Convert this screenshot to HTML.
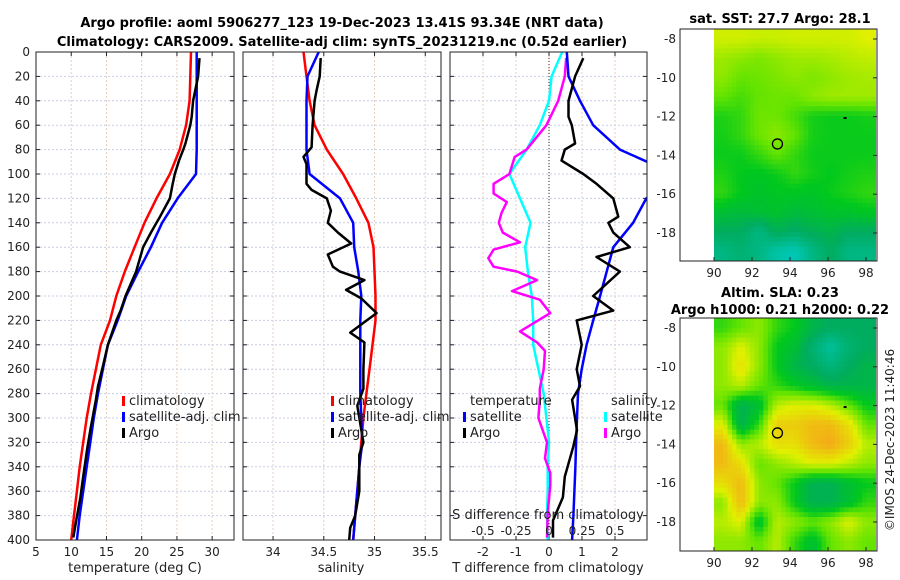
<!DOCTYPE html>
<html><head><meta charset="utf-8">
<style>
html,body{margin:0;padding:0;background:#fff;}
svg{display:block;font-family:"DejaVu Sans","Liberation Sans",sans-serif;}
</style></head>
<body>
<svg id="fig" width="900" height="580" viewBox="0 0 900 580" xmlns="http://www.w3.org/2000/svg">
<text x="342" y="27" text-anchor="middle" font-size="13" font-weight="bold">Argo profile: aoml 5906277_123 19-Dec-2023 13.41S 93.34E (NRT data)</text>
<text x="342" y="46" text-anchor="middle" font-size="13" font-weight="bold">Climatology: CARS2009. Satellite-adj clim: synTS_20231219.nc (0.52d earlier)</text>
<text x="780" y="23" text-anchor="middle" font-size="13" font-weight="bold">sat. SST: 27.7 Argo: 28.1</text>
<text x="780" y="297" text-anchor="middle" font-size="13" font-weight="bold">Altim. SLA: 0.23</text>
<text x="780" y="314" text-anchor="middle" font-size="13" font-weight="bold">Argo h1000: 0.21 h2000: 0.22</text>
<text transform="translate(894,440) rotate(-90)" text-anchor="middle" font-size="12" fill="#222">©IMOS 24-Dec-2023 11:40:46</text>
<g id="layer"></g>
</svg>
<script>
// ---------- data ----------
const depthTicks = [0,20,40,60,80,100,120,140,160,180,200,220,240,260,280,300,320,340,360,380,400];
const tempTicks = [5,10,15,20,25,30];
const salTicks = [34,34.5,35,35.5];
const salTickLabels = ["34","34.5","35","35.5"];
const tdiffTicks = [-2,-1,0,1,2];
const sdiffTicks = [-0.5,-0.25,0,0.25,0.5];
const sdiffTickLabels = ["-0.5","-0.25","0","0.25","0.5"];

const climDepth = [0,20,40,60,80,100,120,140,160,180,200,220,240,260,280,300,320,340,360,380,400];
const climTemp = [27.0,26.9,26.8,26.3,25.4,24.0,22.1,20.4,19.0,17.6,16.4,15.5,14.2,13.5,12.8,12.2,11.7,11.2,10.8,10.4,10.0];
const satTemp  = [27.8,27.8,27.8,27.8,27.8,27.7,25.1,22.9,21.3,19.5,17.8,16.6,15.2,14.5,13.8,13.2,12.7,12.2,11.7,11.2,10.8];
const climSal  = [34.30,34.33,34.36,34.41,34.53,34.69,34.82,34.94,34.99,35.0,35.01,35.01,34.98,34.95,34.92,34.89,34.87,34.85,34.83,34.81,34.79];
const satSal   = [34.45,34.34,34.33,34.33,34.33,34.36,34.66,34.79,34.80,34.84,34.87,34.86,34.86,34.86,34.86,34.87,34.88,34.85,34.83,34.81,34.79];

const argoDepth = [5,20,40,53,60,75,80,89,100,108,120,135,140,148,160,168,180,200,212,220,240,260,274,285,310,324,348,365,384,398];
const argoTemp  = [28.2,28.0,27.3,27.1,26.9,26.2,25.9,25.3,24.7,24.4,24.0,22.6,22.1,21.3,20.2,19.8,19.2,17.7,17.0,16.4,15.2,14.4,13.8,13.5,12.7,12.3,11.7,11.3,10.7,10.3];
const argoTdiff = [1.04,0.79,0.59,0.59,0.69,0.79,0.48,0.38,1.04,1.44,1.95,2.1,1.8,1.95,2.45,1.44,2.15,1.34,1.95,0.84,0.99,0.84,0.94,0.7,0.85,0.73,0.48,0.42,0.12,0.12];

const argoSalDepth = [5,20,31,40,60,78,86,92,108,113,120,130,140,148,157,166,176,180,187,195,202,214,230,238,260,276,290,320,330,360,380,390,400];
const argoSal   = [34.47,34.46,34.43,34.41,34.39,34.38,34.30,34.33,34.33,34.38,34.53,34.57,34.54,34.64,34.77,34.54,34.59,34.66,34.90,34.72,34.87,35.02,34.76,34.90,34.89,34.89,34.83,34.89,34.85,34.85,34.81,34.76,34.75];

const satTdiff  = [0.54,0.59,0.94,1.34,2.15,3.8,2.95,2.55,1.95,1.75,1.55,1.34,1.14,0.99,0.88,0.85,0.82,0.8,0.77,0.74,0.7];
const satSdiff  = [0.1,0.02,0.0,-0.07,-0.17,-0.30,-0.22,-0.14,-0.18,-0.16,-0.13,-0.12,-0.12,-0.08,-0.04,-0.02,0.0,-0.01,-0.01,-0.015,-0.01];
const argoSdiffDepth = [5,20,40,60,80,86,100,108,116,123,132,140,148,156,162,169,176,180,187,196,203,214,229,238,245,260,276,285,300,320,333,345,355,378,398];
const argoSdiff = [0.13,0.12,0.07,-0.02,-0.17,-0.26,-0.30,-0.42,-0.42,-0.32,-0.36,-0.38,-0.35,-0.22,-0.42,-0.46,-0.42,-0.24,-0.09,-0.28,-0.07,0.01,-0.22,-0.09,-0.03,-0.04,-0.07,-0.07,-0.08,-0.015,-0.03,0.01,0.01,-0.01,-0.015];

const lonTicks = [90,92,94,96,98];
const latTicks = [-8,-10,-12,-14,-16,-18];
const sstGrid = [
[0.68,0.68,0.67,0.67,0.68,0.68,0.68,0.68,0.70],
[0.62,0.60,0.58,0.60,0.62,0.62,0.63,0.65,0.66],
[0.60,0.55,0.56,0.58,0.60,0.58,0.60,0.62,0.63],
[0.55,0.52,0.55,0.56,0.56,0.60,0.62,0.62,0.62],
[0.48,0.50,0.56,0.56,0.52,0.47,0.46,0.46,0.47],
[0.47,0.50,0.56,0.60,0.55,0.47,0.46,0.46,0.46],
[0.46,0.46,0.50,0.55,0.50,0.46,0.46,0.46,0.46],
[0.48,0.45,0.44,0.46,0.50,0.47,0.45,0.47,0.48],
[0.50,0.45,0.42,0.44,0.44,0.43,0.46,0.48,0.50],
[0.40,0.38,0.40,0.42,0.38,0.40,0.42,0.42,0.44],
[0.30,0.30,0.20,0.32,0.28,0.32,0.35,0.30,0.30],
[0.20,0.25,0.20,0.10,0.05,0.20,0.30,0.20,0.20]];
const slaGrid = [
[0.50,0.55,0.60,0.50,0.45,0.35,0.30,0.30,0.30],
[0.60,0.70,0.60,0.45,0.40,0.25,0.12,0.25,0.30],
[0.60,0.75,0.60,0.45,0.35,0.30,0.22,0.30,0.35],
[0.60,0.65,0.55,0.50,0.45,0.40,0.35,0.35,0.35],
[0.55,0.33,0.40,0.65,0.70,0.70,0.65,0.55,0.45],
[0.70,0.33,0.50,0.80,0.80,0.85,0.85,0.75,0.55],
[0.85,0.60,0.65,0.75,0.75,0.85,0.90,0.80,0.65],
[0.85,0.75,0.55,0.60,0.65,0.70,0.70,0.65,0.60],
[0.75,0.85,0.60,0.55,0.45,0.33,0.33,0.40,0.45],
[0.60,0.85,0.60,0.60,0.45,0.33,0.33,0.40,0.50],
[0.65,0.70,0.40,0.65,0.60,0.55,0.60,0.70,0.60],
[0.60,0.60,0.55,0.65,0.50,0.40,0.55,0.60,0.55]];
const floatPos = [93.34,-13.41];
const markerPos = [96.9,-12.1];

// ---------- helpers ----------
const NS="http://www.w3.org/2000/svg";
const layer=document.getElementById('layer');
function mk(tag,attrs,parent){const e=document.createElementNS(NS,tag);for(const k in attrs)e.setAttribute(k,attrs[k]);(parent||layer).appendChild(e);return e;}
function txt(x,y,s,size,anchor,parent){const t=mk('text',{x:x,y:y,'font-size':size||12,'text-anchor':anchor||'middle',fill:'#222'},parent);t.textContent=s;return t;}

const Y0=52,Y1=540;
const yD=d=>Y0+(d/400)*(Y1-Y0);
const panels=[
 {x0:36,x1:234,lo:5,hi:33.1,name:'temperature-panel'},
 {x0:243,x1:441,lo:33.704,hi:35.655,name:'salinity-panel'},
 {x0:450,x1:647,lo:-3,hi:2.97,name:'difference-panel'}];
function xf(p){return v=>p.x0+(v-p.lo)/(p.hi-p.lo)*(p.x1-p.x0);}
const xs2=v=>549+v*132;

function frame(p,ticks,labels,clipId){
  const g=mk('g',{});
  
  
  const x=xf(p);
  depthTicks.forEach(d=>{mk('line',{x1:p.x0,x2:p.x1,y1:yD(d),y2:yD(d),stroke:'#c6cde6','stroke-width':1,'stroke-dasharray':'2,2'},g);
    mk('line',{x1:p.x0,x2:p.x0+4,y1:yD(d),y2:yD(d),stroke:'#222'},g);mk('line',{x1:p.x1,x2:p.x1-4,y1:yD(d),y2:yD(d),stroke:'#222'},g);});
  ticks.forEach((t,i)=>{const X=x(t);mk('line',{x1:X,x2:X,y1:Y0,y2:Y1,stroke:'#e6cfc0','stroke-width':1,'stroke-dasharray':'2,2'},g);
    mk('line',{x1:X,x2:X,y1:Y1,y2:Y1-4,stroke:'#222'},g);mk('line',{x1:X,x2:X,y1:Y0,y2:Y0+4,stroke:'#222'},g);
    const tl=txt(X,556,labels[i],12,'middle',g);
    
    });
  const cp=mk('clipPath',{id:clipId},g);mk('rect',{x:p.x0,y:Y0,width:p.x1-p.x0,height:Y1-Y0},cp);
  return g;
}
function line(xsArr,ds,xfun,color,w,clip,name){
  const pts=xsArr.map((v,i)=>xfun(v).toFixed(1)+','+yD(ds[i]).toFixed(1)).join(' ');
  const pl=mk('polyline',{points:pts,fill:'none',stroke:color,'stroke-width':w,'stroke-linejoin':'round','clip-path':'url(#'+clip+')'});
  
  
}
function box(p){mk('rect',{x:p.x0,y:Y0,width:p.x1-p.x0,height:Y1-Y0,fill:'none',stroke:'#222','stroke-width':1});}
function legend(x,y,items){items.forEach((it,i)=>{const yy=y+i*16;
  const m=mk('rect',{x:x,y:yy-9,width:3,height:10,fill:it[1]});
  
  
  const t=txt(x+7,yy,it[0],13,'start');
  
  });}

// Panel 1
const p1=panels[0],x1f=xf(p1);
frame(p1,tempTicks,tempTicks.map(String),'c1');
depthTicks.forEach(d=>{const t=txt(30,yD(d)+4,String(d),12,'end');
  
  });
line(climTemp,climDepth,x1f,'#f00',2.5,'c1','temp-climatology-line');
line(satTemp,climDepth,x1f,'#00f',2.5,'c1','temp-satellite-line');
line(argoTemp,argoDepth,x1f,'#000',2.5,'c1','temp-argo-line');
box(p1);
const xl1=txt(135,572,'temperature (deg C)',13);


legend(122,405,[['climatology','#f00'],['satellite-adj. clim','#00f'],['Argo','#000']]);

// Panel 2
const p2=panels[1],x2f=xf(p2);
frame(p2,salTicks,salTickLabels,'c2');
line(climSal,climDepth,x2f,'#f00',2.5,'c2','sal-climatology-line');
line(satSal,climDepth,x2f,'#00f',2.5,'c2','sal-satellite-line');
line(argoSal,argoSalDepth,x2f,'#000',2.5,'c2','sal-argo-line');
box(p2);
const xl2=txt(341,572,'salinity',13);


legend(331,405,[['climatology','#f00'],['satellite-adj. clim','#00f'],['Argo','#000']]);

// Panel 3
const p3=panels[2],x3f=xf(p3);
frame(p3,tdiffTicks,tdiffTicks.map(String),'c3');
mk('line',{x1:549,x2:549,y1:Y0,y2:Y1,stroke:'#333','stroke-width':1,'stroke-dasharray':'1,2'});
line(satSdiff,climDepth,xs2,'#0ff',2.5,'c3','sdiff-satellite-line');
line(argoSdiff,argoSdiffDepth,xs2,'#f0f',2.5,'c3','sdiff-argo-line');
line(satTdiff,climDepth,x3f,'#00f',2.5,'c3','tdiff-satellite-line');
line(argoTdiff,argoDepth,x3f,'#000',2.5,'c3','tdiff-argo-line');
box(p3);
const st=txt(548,519,'S difference from climatology',13);


sdiffTicks.forEach((v,i)=>{const t=txt(xs2(v),535,sdiffTickLabels[i],12);
  
  });
const xl3=txt(548,572,'T difference from climatology',13);


txt(470,405,'temperature',13,'start');
legend(463,421,[['satellite','#00f'],['Argo','#000']]);
txt(611,405,'salinity',13,'start');
legend(604,421,[['satellite','#0ff'],['Argo','#f0f']]);

// ---------- maps ----------
const stops=[[0,[0,205,200]],[0.3,[0,172,95]],[0.45,[0,200,30]],[0.55,[100,228,0]],[0.7,[225,240,0]],[0.9,[245,168,25]],[1,[245,140,20]]];
function cmap(v){for(let i=1;i<stops.length;i++){if(v<=stops[i][0]){const a=stops[i-1],b=stops[i],t=(v-a[0])/(b[0]-a[0]);
  const c=a[1].map((q,k)=>Math.round(q+(b[1][k]-q)*t));return 'rgb('+c.join(',')+')';}}return 'rgb(245,140,20)';}
function sample(grid,fr,fc){
  const R=grid.length,C=grid[0].length;
  let r=Math.max(0,Math.min(R-1,fr)),c=Math.max(0,Math.min(C-1,fc));
  const r0=Math.floor(r),c0=Math.floor(c),r1=Math.min(R-1,r0+1),c1=Math.min(C-1,c0+1),tr=r-r0,tc=c-c0;
  return (grid[r0][c0]*(1-tc)+grid[r0][c1]*tc)*(1-tr)+(grid[r1][c0]*(1-tc)+grid[r1][c1]*tc)*tr;
}
function drawMap(top,bot,grid,name){
  const L=680,R=877,lon=v=>714+(v-90)*19,latY=v=>top+10+(-8-v)*19.4;
  const g=mk('g',{});
  
  
  const rows=grid.length,cols=grid[0].length,S=4;
  const x0=lon(90),x1=lon(98.5),cw=(x1-x0)/(cols*S),rh=(bot-top)/(rows*S);
  for(let r=0;r<rows*S;r++)for(let c=0;c<cols*S;c++){
    const v=sample(grid,(r+0.5)/S-0.5,(c+0.5)/S-0.5);
    const cell=mk('rect',{x:(x0+c*cw).toFixed(2),y:(top+r*rh).toFixed(2),width:(cw+0.5).toFixed(2),height:(rh+0.5).toFixed(2),fill:cmap(v)},g);
    
    
  }
  mk('rect',{x:L,y:top,width:R-L,height:bot-top,fill:'none',stroke:'#222'},g);
  lonTicks.forEach(v=>{mk('line',{x1:lon(v),x2:lon(v),y1:bot,y2:bot-4,stroke:'#222'},g);
    const t=txt(lon(v),bot+16,String(v),12,'middle',g);
    
    });
  latTicks.forEach(v=>{mk('line',{x1:R,x2:R-4,y1:latY(v),y2:latY(v),stroke:'#222'},g);
    const t=txt(676,latY(v)+4,String(v),12,'end',g);
    
    });
  const c=mk('circle',{cx:lon(floatPos[0]),cy:latY(floatPos[1]),r:5,fill:'none',stroke:'#000','stroke-width':1.3},g);
  
  
  const m=mk('rect',{x:lon(markerPos[0])-1.5,y:latY(markerPos[1])-1.5,width:3,height:2,fill:'#000'},g);
  
  
}
drawMap(29,261,sstGrid,'sst-map');
drawMap(318,551,slaGrid,'sla-map');
</script>
</body></html>
